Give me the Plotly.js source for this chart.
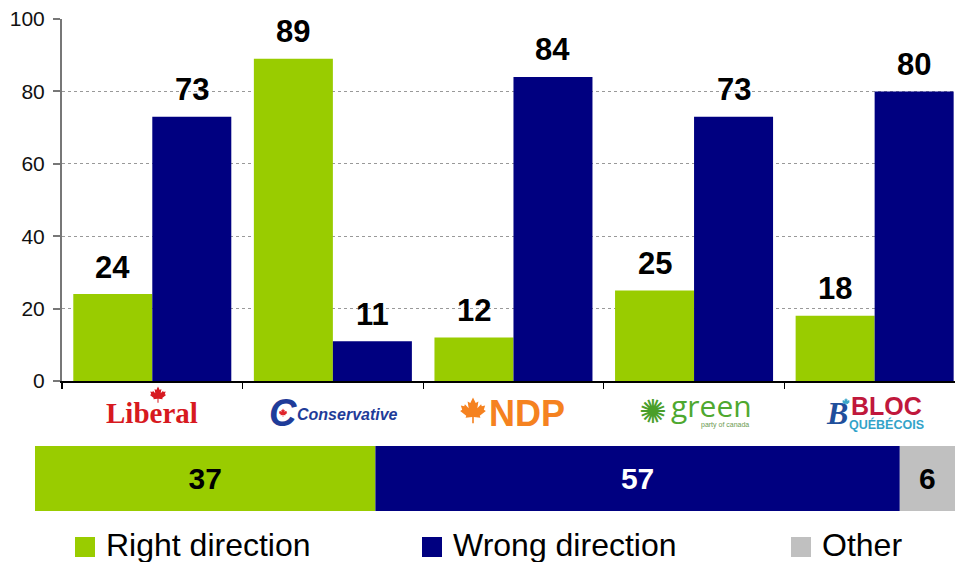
<!DOCTYPE html>
<html>
<head>
<meta charset="utf-8">
<script src="https://cdn.plot.ly/plotly-3.0.1.min.js"></script>
<style>html,body{margin:0;padding:0;background:#fff;}#chart{width:955px;height:562px;}</style>
</head>
<body>
<div id="chart"></div>
<script>
// ---- Data ----
const parties = ['Liberal', 'Conservative', 'NDP', 'Green', 'Bloc'];
const rightDirection = [24, 89, 12, 25, 18];
const wrongDirection = [73, 11, 84, 73, 80];
const overallLabels = ['Right direction', 'Wrong direction', 'Other'];
const overallValues = [37, 57, 6];
const seriesColors = ['#99cc00', '#000080', '#c0c0c0'];
const overallTextColors = ['#000000', '#ffffff', '#000000'];
const yTickVals = [0, 20, 40, 60, 80, 100];

// ---- Helpers ----
const W = 955, H = 562;
const PX = x => x / W;
const PY = y => 1 - y / H;
const FONT = 'Liberation Sans, Arial, sans-serif';

function leafPath(s) {
  const pts = [[0,-10],[2,-6],[4,-7],[3.2,-2],[6,-5],[6.5,-3.5],[9,-4],[8,-1],[9.5,0],[5,3.5],[5.5,5],[0.6,4.5],[0.6,9],[-0.6,9],[-0.6,4.5],[-5.5,5],[-5,3.5],[-9.5,0],[-8,-1],[-9,-4],[-6.5,-3.5],[-6,-5],[-3.2,-2],[-4,-7],[-2,-6]];
  return 'M' + pts.map(p => (p[0]*s).toFixed(2) + ',' + (-p[1]*s).toFixed(2)).join('L') + 'Z';
}
function leafShape(cx, cy, s, color) {
  return {type: 'path', xref: 'paper', yref: 'paper', xsizemode: 'pixel', ysizemode: 'pixel',
    xanchor: PX(cx), yanchor: PY(cy), path: leafPath(s), fillcolor: color, line: {width: 0}, layer: 'above'};
}

// ---- Traces ----
const traces = [
  {type: 'bar', x: parties, y: rightDirection, name: overallLabels[0], marker: {color: seriesColors[0]},
   xaxis: 'x', yaxis: 'y', hoverinfo: 'skip', showlegend: false},
  {type: 'bar', x: parties, y: wrongDirection, name: overallLabels[1], marker: {color: seriesColors[1]},
   xaxis: 'x', yaxis: 'y', hoverinfo: 'skip', showlegend: false}
];
let cum = 0;
overallValues.forEach((v, i) => {
  traces.push({type: 'bar', orientation: 'h', y: ['Total'], x: [v], base: [cum], width: [1], offset: [-0.5],
    name: overallLabels[i], marker: {color: seriesColors[i]}, xaxis: 'x2', yaxis: 'y2',
    text: [String(v)], textposition: 'inside', insidetextanchor: 'middle', constraintext: 'none',
    textfont: {family: FONT, size: 30, weight: 'bold', color: overallTextColors[i]},
    hoverinfo: 'skip', showlegend: false});
  cum += v;
});

// ---- Annotations ----
const annotations = [];
const half = 0.21875;
parties.forEach((p, i) => {
  annotations.push({xref: 'x', yref: 'y', x: i - half, y: rightDirection[i], yshift: 27, yanchor: 'middle',
    text: String(rightDirection[i]), showarrow: false, font: {family: FONT, size: 31, weight: 'bold', color: '#000'}});
  annotations.push({xref: 'x', yref: 'y', x: i + half, y: wrongDirection[i], yshift: 27, yanchor: 'middle',
    text: String(wrongDirection[i]), showarrow: false, font: {family: FONT, size: 31, weight: 'bold', color: '#000'}});
});

// Legend (manual)
const legendX = [75, 422, 791];
const shapes = [];
overallLabels.forEach((lab, i) => {
  shapes.push({type: 'rect', xref: 'paper', yref: 'paper', x0: PX(legendX[i]), x1: PX(legendX[i] + 20),
    y0: PY(557), y1: PY(537), fillcolor: seriesColors[i], line: {width: 0}});
  annotations.push({xref: 'paper', yref: 'paper', x: PX(legendX[i] + 29), y: PY(545), xanchor: 'left', yanchor: 'middle',
    text: lab, showarrow: false, font: {family: FONT, size: 32, color: '#000'}});
});

// Party "logos"
// Liberal
annotations.push({xref: 'x', yref: 'paper', x: 0, y: PY(413), yanchor: 'middle', showarrow: false,
  text: '<b>Liberal</b>', font: {family: 'Liberation Serif, Times New Roman, serif', size: 29, color: '#d71920'}});
shapes.push(leafShape(158, 395, 0.85, '#d71920'));
// Conservative
annotations.push({xref: 'x', yref: 'paper', x: 1, y: PY(413), xshift: -50, yanchor: 'middle', showarrow: false,
  text: '<b><i>C</i></b>', font: {family: FONT, size: 38, color: '#1f3c99'}});
shapes.push(leafShape(283, 413, 0.45, '#e0242c'));
annotations.push({xref: 'x', yref: 'paper', x: 1, y: PY(414), xshift: 15, yanchor: 'middle', showarrow: false,
  text: '<b><i>Conservative</i></b>', font: {family: FONT, size: 16, color: '#1f3c99'}});
// NDP
shapes.push(leafShape(473, 411, 1.35, '#f58220'));
annotations.push({xref: 'x', yref: 'paper', x: 2, y: PY(413), xshift: 14, yanchor: 'middle', showarrow: false,
  text: '<b>NDP</b>', font: {family: FONT, size: 36, color: '#f58220'}});
// Green
annotations.push({xref: 'x', yref: 'paper', x: 3, y: PY(411), xshift: -41, yanchor: 'middle', showarrow: false,
  text: '✺', font: {family: 'DejaVu Sans, sans-serif', size: 33, color: '#4a9e2a'}});
annotations.push({xref: 'x', yref: 'paper', x: 3, y: PY(405), xshift: 17, yanchor: 'middle', showarrow: false,
  text: 'green', font: {family: 'Open Sans, ' + FONT, size: 30, color: '#4ea82f'}});
annotations.push({xref: 'x', yref: 'paper', x: 3, y: PY(425), xshift: 31, yanchor: 'middle', showarrow: false,
  text: 'party of canada', font: {family: FONT, size: 7, color: '#6a9a50'}});
// Bloc
annotations.push({xref: 'x', yref: 'paper', x: 4, y: PY(413), xshift: -38, yanchor: 'middle', showarrow: false,
  text: '<b><i>B</i></b>', font: {family: 'Liberation Serif, serif', size: 32, color: '#1f4f9c'}});
shapes.push(leafShape(846, 402, 0.4, '#39a6c9'));
annotations.push({xref: 'x', yref: 'paper', x: 4, y: PY(406), xshift: 12, yanchor: 'middle', showarrow: false,
  text: '<b>BLOC</b>', font: {family: FONT, size: 25, color: '#c0183c'}});
annotations.push({xref: 'x', yref: 'paper', x: 4, y: PY(424), xshift: 12, yanchor: 'middle', showarrow: false,
  text: '<b>QUÉBÉCOIS</b>', font: {family: FONT, size: 12.5, color: '#33a3c9'}});

// ---- Layout ----
const layout = {
  width: W, height: H,
  margin: {l: 0, r: 0, t: 0, b: 0},
  paper_bgcolor: '#ffffff', plot_bgcolor: '#ffffff',
  barmode: 'group', bargap: 0.125, bargroupgap: 0,
  showlegend: false,
  font: {family: FONT, color: '#000'},
  xaxis: {domain: [PX(62), 1], range: [-0.5, 4.445], type: 'category', anchor: 'y',
    showline: true, linecolor: '#000', linewidth: 1.5, ticks: 'outside', tickson: 'boundaries',
    ticklen: 6, tickcolor: '#000', tickwidth: 1.2, showticklabels: false, showgrid: false, zeroline: false, fixedrange: true},
  yaxis: {domain: [PY(381), PY(19)], range: [0, 100], tickvals: yTickVals, anchor: 'x',
    showgrid: true, gridcolor: '#999999', griddash: '3px,3px', gridwidth: 1,
    showline: true, linecolor: '#777', linewidth: 2, ticks: 'outside', ticklen: 7, tickcolor: '#777', tickwidth: 2,
    ticklabelstandoff: 4, tickfont: {family: FONT, size: 21, color: '#111'}, zeroline: false, fixedrange: true},
  xaxis2: {domain: [PX(35), 1], range: [0, 100], anchor: 'y2', visible: false, fixedrange: true},
  yaxis2: {domain: [PY(511), PY(446)], range: [-0.5, 0.5], anchor: 'x2', visible: false, fixedrange: true},
  annotations: annotations,
  shapes: shapes
};

Plotly.newPlot('chart', traces, layout, {displayModeBar: false, staticPlot: true});
</script>
</body>
</html>
